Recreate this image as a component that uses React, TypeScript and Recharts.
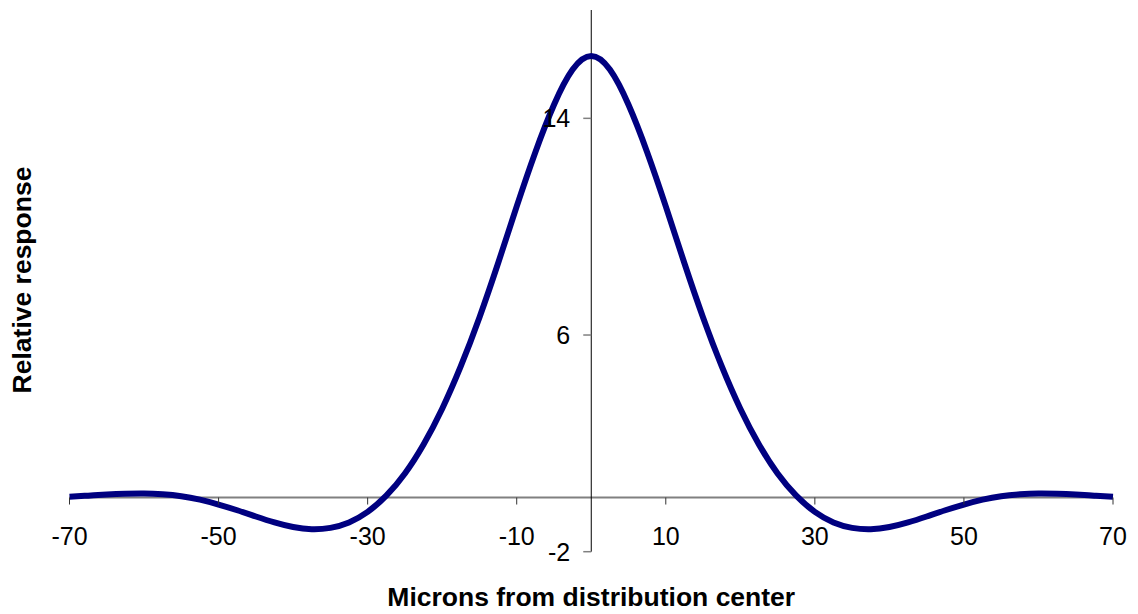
import { LineChart, Line, XAxis, YAxis, ReferenceLine } from 'recharts'

const microns = [
    -70, -67.5, -65, -62.5, -60, -57.5, -55, -52.5, -50, -47.5, -45, -42.5, -40, -37.5, -35,
    -32.5, -30, -27.5, -25, -22.5, -20, -17.5, -15, -12.5, -10, -7.5, -5, -2.5, 0,
    2.5, 5, 7.5, 10, 12.5, 15, 17.5, 20, 22.5, 25, 27.5, 30, 32.5, 35,
    37.5, 40, 42.5, 45, 47.5, 50, 52.5, 55, 57.5, 60, 62.5, 65, 67.5, 70,
]

const response = [
    0.03, 0.07, 0.11, 0.14, 0.15, 0.12, 0.05, -0.08, -0.26, -0.47, -0.7, -0.92, -1.09, -1.17, -1.12,
    -0.92, -0.53, 0.07, 0.89, 1.96, 3.28, 4.85, 6.65, 8.65, 10.75, 12.75, 14.5, 15.8, 16.3,
    15.8, 14.5, 12.75, 10.75, 8.65, 6.65, 4.85, 3.28, 1.96, 0.89, 0.07, -0.53, -0.92, -1.12,
    -1.17, -1.09, -0.92, -0.7, -0.47, -0.26, -0.08, 0.05, 0.12, 0.15, 0.14, 0.11, 0.07, 0.03,
]

const xTicks = [-70, -50, -30, -10, 10, 30, 50, 70]
const yTicks = [-2, 6, 14]

const data = microns.map((x, i) => ({ x, y: response[i] }))

const WIDTH = 1122
const HEIGHT = 606
const MARGIN = { top: 2, right: 17, left: 31.5, bottom: 32.3 }
const Y_AXIS_W = 30
const X_AXIS_H = 30
const X_MIN = -70
const X_MAX = 70
const Y_MIN = -2
const Y_MAX = 18

const PLOT_W = WIDTH - MARGIN.left - MARGIN.right - Y_AXIS_W
const PLOT_H = HEIGHT - MARGIN.top - MARGIN.bottom - X_AXIS_H
// the axes cross at (0, 0) inside the plot, not on its edges
const ZERO_Y = MARGIN.top + (PLOT_H * (Y_MAX - 0)) / (Y_MAX - Y_MIN)
const ZERO_X = MARGIN.left + Y_AXIS_W + (PLOT_W * (0 - X_MIN)) / (X_MAX - X_MIN)

const FONT = '"Liberation Sans", Arial, sans-serif'

function XTick(props: any) {
    const { x, payload } = props
    return (
        <g>
            <line x1={x} y1={ZERO_Y} x2={x} y2={ZERO_Y + 7} stroke="#333" strokeWidth={1} />
            <text x={x} y={ZERO_Y + 47.5} textAnchor="middle" fontSize={25} fontFamily={FONT} fill="#000">
                {payload.value}
            </text>
        </g>
    )
}

function YTick(props: any) {
    const { y, payload } = props
    return (
        <g>
            <line x1={ZERO_X - 8} y1={y} x2={ZERO_X} y2={y} stroke="#808080" strokeWidth={1.5} />
            <text x={ZERO_X - 21} y={y} dy="0.36em" textAnchor="end" fontSize={25} fontFamily={FONT} fill="#000">
                {payload.value}
            </text>
        </g>
    )
}

const titleStyle = {
    position: 'absolute' as const,
    whiteSpace: 'nowrap' as const,
    fontFamily: FONT,
    fontWeight: 'bold' as const,
    fontSize: 26.5,
    lineHeight: '30px',
}

export default function App() {
    return (
        <div style={{ position: 'relative', width: WIDTH, height: HEIGHT }}>
            <LineChart width={WIDTH} height={HEIGHT} data={data} margin={MARGIN}>
                <XAxis
                    dataKey="x"
                    type="number"
                    domain={[X_MIN, X_MAX]}
                    ticks={xTicks}
                    height={X_AXIS_H}
                    axisLine={false}
                    tickLine={false}
                    tick={(p: any) => <XTick {...p} />}
                    interval={0}
                />
                <YAxis
                    type="number"
                    domain={[Y_MIN, Y_MAX]}
                    ticks={yTicks}
                    width={Y_AXIS_W}
                    axisLine={false}
                    tickLine={false}
                    tick={(p: any) => <YTick {...p} />}
                    interval={0}
                />
                <ReferenceLine y={0} stroke="#808080" strokeWidth={2} />
                <ReferenceLine x={0} stroke="#000" strokeWidth={1} />
                <Line
                    type="natural"
                    dataKey="y"
                    stroke="#000080"
                    strokeWidth={6}
                    dot={false}
                    isAnimationActive={false}
                />
            </LineChart>
            <div style={{ ...titleStyle, left: ZERO_X, top: 574, transform: 'translateX(-50%)' }}>
                Microns from distribution center
            </div>
            <div style={{ ...titleStyle, left: 14, top: 272, transform: 'translate(-50%, -50%) rotate(-90deg)' }}>
                Relative response
            </div>
        </div>
    )
}
